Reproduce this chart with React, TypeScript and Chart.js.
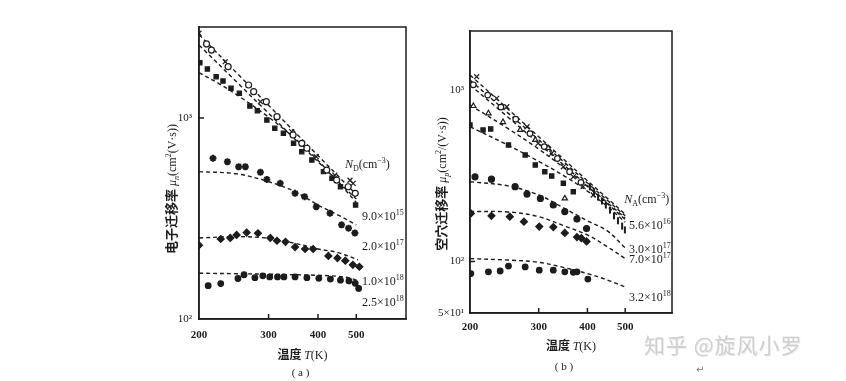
import React, { useEffect, useRef } from 'react';
import { Chart, registerables } from 'chart.js';

Chart.register(...registerables);

// ================= Panel (a): electron mobility =================
const A_X_TICKS = [200, 300, 400, 500];
const A_Y_TICKS = [100, 1000];
const A_Y_LABELS = ['10²', '10³'];

// dashed fit curves
const A_FIT_T = [200, 250, 300, 350, 400, 450, 500];
const A_FIT_1 = [2600, 1664, 1156, 849, 650, 514, 416];
const A_FIT_2 = [2307, 1500, 1055, 783, 606, 482, 395];
const A_FIT_3_T = [200, 225, 250, 300, 350, 400, 450, 500];
const A_FIT_3 = [1680, 1480, 1300, 1010, 790, 615, 480, 380];
const A_FIT_9E15 = [541, 527, 482, 430, 369, 329, 294];
const A_FIT_2E17_T = [200, 250, 300, 350, 400, 450, 505];
const A_FIT_2E17 = [253, 257, 252, 238, 223, 214, 197];
const A_FIT_1E18_T = [200, 250, 300, 350, 400, 450, 480, 505];
const A_FIT_1E18 = [169, 168, 167, 166, 165, 163, 160, 155];

// measured points
const A_CIRC_T = [209, 215, 237, 267, 275, 296, 315, 346, 364, 375, 421, 446, 477, 497];
const A_CIRC_MU = [2335, 2178, 1800, 1459, 1352, 1205, 1015, 823, 748, 707, 551, 491, 455, 422];
const A_SQ_T = [201, 210, 221, 230, 241, 253, 269, 281, 297, 311, 327, 347, 364, 386, 413, 434, 456, 498];
const A_SQ_MU = [1884, 1753, 1605, 1528, 1405, 1327, 1148, 1087, 977, 889, 839, 748, 680, 618, 541, 501, 455, 369];
const A_X_T = [200, 233, 286, 343, 396, 441, 482, 491];
const A_X_MU = [2640, 1906, 1205, 855, 642, 520, 490, 473];
const A_STAR_T = [217, 236, 252, 262, 286, 297, 321, 350, 370, 396, 429, 459, 478, 496];
const A_STAR_MU = [630, 606, 572, 572, 537, 495, 473, 422, 406, 362, 336, 294, 283, 268];
const A_DIA_T = [200, 227, 240, 249, 264, 282, 303, 315, 331, 350, 371, 389, 425, 448, 469, 490, 509];
const A_DIA_MU = [233, 250, 253, 262, 269, 267, 253, 245, 242, 228, 223, 223, 206, 201, 195, 186, 182];
const A_DOT_T = [211, 227, 251, 260, 277, 290, 302, 316, 328, 350, 375, 402, 430, 456, 479, 497, 507];
const A_DOT_MU = [146.5, 150, 159, 166, 160.5, 164, 162, 162, 162, 162, 160.5, 159.4, 158, 156, 154.6, 150.5, 142];

const A_LABELS = [
  ['9.0', '15'],
  ['2.0', '17'],
  ['1.0', '18'],
  ['2.5', '18'],
];

// ================= Panel (b): hole mobility =================
const B_X_TICKS = [200, 300, 400, 500];
const B_Y_TICKS = [50, 100, 1000];
const B_Y_LABELS = ['5×10¹', '10²', '10³'];

const B_FIT_T = [200, 250, 300, 350, 400, 450, 500];
const B_FIT_1 = [1233, 781, 537, 391, 297, 234, 189];
const B_FIT_2 = [1152, 740, 515, 378, 288, 228, 185];
const B_FIT_3 = [1077, 700, 490, 362, 278, 221, 180];
const B_FIT_TRI = [823, 600, 455, 350, 275, 218, 176];
const B_FIT_SQ = [614, 480, 385, 315, 258, 210, 170];
const B_FIT_3E17 = [293, 277, 245, 204, 173, 151, 120];
const B_FIT_7E17 = [196, 195, 183, 161, 143, 122, 104];
const B_FIT_32E18 = [104, 102, 99, 92, 85, 78, 71];

const B_X_T = [208, 234, 248.5, 280, 299, 324, 347, 368, 390, 414];
const B_X_MU = [1205, 900, 804, 614, 491, 429, 358, 313, 274, 245];
const B_CIRC_T = [204, 222, 240, 262, 285, 310, 335, 360, 385];
const B_CIRC_MU = [1080, 940, 800, 680, 560, 470, 400, 335, 290];
const B_BAR_T = [406, 416, 426, 436, 446, 457, 468, 479, 491, 499];
const B_BAR_MU = [273, 255, 238, 226, 214, 200, 185, 173, 161, 153];
const B_TRI_T = [204, 223, 243, 269, 294, 317, 350];
const B_TRI_MU = [812, 736, 654, 588, 514, 461, 234];
const B_SQ_T = [200, 216, 226, 251, 277, 294, 311, 324, 347, 368];
const B_SQ_MU = [629, 588, 596, 480, 420, 367, 335, 316, 287, 256];
const B_HEX_T = [206, 227, 261, 280, 303, 327, 350, 376, 398];
const B_HEX_MU = [313, 303, 274, 248, 234, 214, 196, 177, 156];
const B_DIA_T = [201, 227, 253, 275, 301, 327, 350, 376, 386, 398];
const B_DIA_MU = [191, 185, 183, 171, 160, 159, 147, 139, 137, 131];
const B_DOT_T = [201, 223, 239, 251, 277, 301, 327, 350, 368, 376, 401];
const B_DOT_MU = [85, 87, 88, 94, 93, 89, 89, 87, 86.5, 87, 79];

const B_LABELS = [
  ['5.6', '16'],
  ['3.0', '17'],
  ['7.0', '17'],
  ['3.2', '18'],
];

// ================= helpers =================
const INK = '#1c1c1c';
const SERIF = '"Liberation Serif", "DejaVu Serif", serif';
const CJK = '"Noto Sans CJK SC", sans-serif';

type Run = { t: string; f: string; dy?: number };

function drawRuns(ctx: CanvasRenderingContext2D, runs: Run[], x: number, y: number, align: 'left' | 'center') {
  let w = 0;
  for (const r of runs) {
    ctx.font = r.f;
    w += ctx.measureText(r.t).width;
  }
  let cx = align === 'center' ? x - w / 2 : x;
  ctx.textAlign = 'left';
  ctx.textBaseline = 'alphabetic';
  for (const r of runs) {
    ctx.font = r.f;
    ctx.fillText(r.t, cx, y + 4 + (r.dy || 0));
    cx += ctx.measureText(r.t).width;
  }
}

function sciRuns(m: string, e: string): Run[] {
  return [
    { t: m + '×10', f: `12px ${SERIF}` },
    { t: e, f: `8px ${SERIF}`, dy: -5 },
  ];
}

function pts(T: number[], mu: number[]) {
  return T.map((t, i) => ({ x: t, y: mu[i] }));
}

function lineDs(T: number[], mu: number[]) {
  return {
    data: pts(T, mu),
    showLine: true,
    borderColor: INK,
    borderWidth: 1.4,
    borderDash: [4, 3],
    pointRadius: 0,
    tension: 0.35,
    fill: false,
  };
}

function markDs(T: number[], mu: number[], style: string, filled: boolean, r = 3, extra: any = {}) {
  return {
    data: pts(T, mu),
    showLine: false,
    pointStyle: style,
    pointRadius: r,
    backgroundColor: filled ? INK : '#ffffff',
    borderColor: INK,
    borderWidth: 1.2,
    ...extra,
  };
}

function logAxis(min: number, max: number, ticks: number[], labels: string[] | null, fit: (s: any) => void, pad: number, font: any) {
  return {
    type: 'logarithmic',
    min,
    max,
    afterBuildTicks: (s: any) => {
      s.ticks = ticks.map((v) => ({ value: v }));
    },
    afterFit: fit,
    grid: { display: true, drawOnChartArea: false, drawTicks: false, color: INK },
    border: { display: true, color: INK, width: 1.5 },
    ticks: {
      autoSkip: false,
      maxRotation: 0,
      padding: pad,
      color: INK,
      font,
      callback: (v: any) => {
        const i = ticks.indexOf(Number(v));
        if (i < 0) return '';
        return labels ? labels[i] : String(ticks[i]);
      },
    },
  };
}

function frameAndTicks(chart: any, yTicks: number[]) {
  const ctx = chart.ctx as CanvasRenderingContext2D;
  const { left, right, top, bottom } = chart.chartArea;
  const xs = chart.scales.x;
  const ys = chart.scales.y;
  ctx.strokeStyle = INK;
  ctx.lineWidth = 1.5;
  ctx.strokeRect(left, top, right - left, bottom - top);
  ctx.beginPath();
  for (const v of [300, 400, 500]) {
    const px = xs.getPixelForValue(v);
    ctx.moveTo(px, bottom);
    ctx.lineTo(px, bottom - 5);
  }
  for (const v of yTicks) {
    const py = ys.getPixelForValue(v);
    ctx.moveTo(left, py);
    ctx.lineTo(left + 5, py);
  }
  ctx.stroke();
}

function rotatedTitle(ctx: CanvasRenderingContext2D, runs: Run[], x: number, y: number) {
  ctx.save();
  ctx.translate(x, y);
  ctx.rotate(-Math.PI / 2);
  drawRuns(ctx, runs, 0, 0, 'center');
  ctx.restore();
}

// ================= configs =================
function configA(): any {
  const plugin = {
    id: 'panelA',
    afterDraw(chart: any) {
      const ctx = chart.ctx as CanvasRenderingContext2D;
      const xs = chart.scales.x;
      const ys = chart.scales.y;
      ctx.save();
      frameAndTicks(chart, [1000]);
      ctx.fillStyle = INK;
      // header N_D(cm^-3)
      drawRuns(ctx, [
        { t: 'N', f: `italic 12px ${SERIF}` },
        { t: 'D', f: `8px ${SERIF}`, dy: 3 },
        { t: '(cm', f: `12px ${SERIF}` },
        { t: '−3', f: `8px ${SERIF}`, dy: -5 },
        { t: ')', f: `12px ${SERIF}` },
      ], xs.getPixelForValue(468), ys.getPixelForValue(590), 'left');
      const anchors = [325, 231, 154.5, 121.5];
      A_LABELS.forEach((l, i) => {
        drawRuns(ctx, sciRuns(l[0], l[1]), xs.getPixelForValue(517), ys.getPixelForValue(anchors[i]), 'left');
      });
      // axis titles
      rotatedTitle(ctx, [
        { t: '电子迁移率 ', f: `bold 13px ${CJK}` },
        { t: 'μ', f: `italic 12px ${SERIF}` },
        { t: 'n', f: `italic 8px ${SERIF}`, dy: 3 },
        { t: '(cm', f: `12px ${SERIF}` },
        { t: '2', f: `8px ${SERIF}`, dy: -5 },
        { t: '(V·s))', f: `12px ${SERIF}` },
      ], 172, 189);
      const cx = (chart.chartArea.left + chart.chartArea.right) / 2;
      drawRuns(ctx, [
        { t: '温度 ', f: `bold 12px ${CJK}` },
        { t: 'T', f: `italic 12px ${SERIF}` },
        { t: '(K)', f: `12px ${SERIF}` },
      ], cx, 355, 'center');
      drawRuns(ctx, [{ t: '( a )', f: `11px ${SERIF}` }], cx - 2, 372, 'center');
      ctx.restore();
    },
  };
  return {
    type: 'scatter',
    data: {
      datasets: [
        markDs(A_CIRC_T, A_CIRC_MU, 'circle', false, 3),
        markDs(A_X_T, A_X_MU, 'crossRot', false, 3.5),
        markDs(A_SQ_T, A_SQ_MU, 'rect', true, 3),
        markDs(A_STAR_T, A_STAR_MU, 'star', true, 3.5, { borderWidth: 2 }),
        markDs(A_DIA_T, A_DIA_MU, 'rectRot', true, 3.5),
        markDs(A_DOT_T, A_DOT_MU, 'circle', true, 2.8),
        lineDs(A_FIT_T, A_FIT_1),
        lineDs(A_FIT_T, A_FIT_2),
        lineDs(A_FIT_3_T, A_FIT_3),
        lineDs(A_FIT_T, A_FIT_9E15),
        lineDs(A_FIT_2E17_T, A_FIT_2E17),
        lineDs(A_FIT_1E18_T, A_FIT_1E18),
      ],
    },
    options: {
      animation: false,
      responsive: false,
      events: [],
      layout: { padding: { left: 0, top: 27, right: 14, bottom: 0 } },
      plugins: { legend: { display: false }, tooltip: { enabled: false } },
      scales: {
        x: logAxis(200, 668, A_X_TICKS, null, (s: any) => { s.height = 62; }, 10, { family: SERIF, size: 11, weight: 'bold' }),
        y: logAxis(100, 2836, A_Y_TICKS, A_Y_LABELS, (s: any) => { s.width = 199; }, 7, { family: SERIF, size: 11 }),
      },
    },
    plugins: [plugin],
  };
}

const B_OFFSET = 420;

function configB(): any {
  const plugin = {
    id: 'panelB',
    afterDraw(chart: any) {
      const ctx = chart.ctx as CanvasRenderingContext2D;
      const xs = chart.scales.x;
      const ys = chart.scales.y;
      ctx.save();
      frameAndTicks(chart, [100]);
      ctx.fillStyle = INK;
      drawRuns(ctx, [
        { t: 'N', f: `italic 12px ${SERIF}` },
        { t: 'A', f: `8px ${SERIF}`, dy: 3 },
        { t: '(cm', f: `12px ${SERIF}` },
        { t: '−3', f: `8px ${SERIF}`, dy: -5 },
        { t: ')', f: `12px ${SERIF}` },
      ], xs.getPixelForValue(497), ys.getPixelForValue(232), 'left');
      const anchors = [163.5, 118.4, 103.5, 62];
      B_LABELS.forEach((l, i) => {
        drawRuns(ctx, sciRuns(l[0], l[1]), xs.getPixelForValue(511), ys.getPixelForValue(anchors[i]), 'left');
      });
      rotatedTitle(ctx, [
        { t: '空穴迁移率 ', f: `bold 13px ${CJK}` },
        { t: 'μ', f: `italic 12px ${SERIF}` },
        { t: 'p', f: `italic 8px ${SERIF}`, dy: 3 },
        { t: '(cm', f: `12px ${SERIF}` },
        { t: '2', f: `8px ${SERIF}`, dy: -5 },
        { t: '/(V·s))', f: `12px ${SERIF}` },
      ], 442 - B_OFFSET, 184);
      const cx = (chart.chartArea.left + chart.chartArea.right) / 2;
      drawRuns(ctx, [
        { t: '温度 ', f: `bold 12px ${CJK}` },
        { t: 'T', f: `italic 12px ${SERIF}` },
        { t: '(K)', f: `12px ${SERIF}` },
      ], cx, 346, 'center');
      drawRuns(ctx, [{ t: '( b )', f: `11px ${SERIF}` }], cx - 7, 366, 'center');
      ctx.restore();
    },
  };
  return {
    type: 'scatter',
    data: {
      datasets: [
        markDs(B_X_T, B_X_MU, 'crossRot', false, 3.5),
        markDs(B_CIRC_T, B_CIRC_MU, 'circle', false, 2.8),
        markDs(B_BAR_T, B_BAR_MU, 'line', false, 3.5, { rotation: 90, borderWidth: 2 }),
        markDs(B_TRI_T, B_TRI_MU, 'triangle', false, 3),
        markDs(B_SQ_T, B_SQ_MU, 'rect', true, 3),
        markDs(B_HEX_T, B_HEX_MU, 'circle', true, 3),
        markDs(B_DIA_T, B_DIA_MU, 'rectRot', true, 3.5),
        markDs(B_DOT_T, B_DOT_MU, 'circle', true, 2.8),
        lineDs(B_FIT_T, B_FIT_1),
        lineDs(B_FIT_T, B_FIT_2),
        lineDs(B_FIT_T, B_FIT_3),
        lineDs(B_FIT_T, B_FIT_TRI),
        lineDs(B_FIT_T, B_FIT_SQ),
        lineDs(B_FIT_T, B_FIT_3E17),
        lineDs(B_FIT_T, B_FIT_7E17),
        lineDs(B_FIT_T, B_FIT_32E18),
      ],
    },
    options: {
      animation: false,
      responsive: false,
      events: [],
      layout: { padding: { left: 0, top: 31, right: 174, bottom: 0 } },
      plugins: { legend: { display: false }, tooltip: { enabled: false } },
      scales: {
        x: logAxis(200, 659, B_X_TICKS, null, (s: any) => { s.height = 68; }, 8, { family: SERIF, size: 11, weight: 'bold' }),
        y: logAxis(50, 2229, B_Y_TICKS, B_Y_LABELS, (s: any) => { s.width = 50; }, 6, { family: SERIF, size: 11 }),
      },
    },
    plugins: [plugin],
  };
}

function Panel({ make, left, width }: { make: () => any; left: number; width: number }) {
  const ref = useRef<HTMLCanvasElement | null>(null);
  useEffect(() => {
    if (!ref.current) return;
    const chart = new Chart(ref.current, make());
    return () => chart.destroy();
  }, []);
  return (
    <canvas
      ref={ref}
      width={width}
      height={381}
      style={{ position: 'absolute', left, top: 0, width, height: 381, display: 'block' }}
    />
  );
}

export default function App() {
  return (
    <div style={{ position: 'absolute', left: 0, top: 0, width: 846, height: 381, background: '#ffffff', overflow: 'hidden' }}>
      <Panel make={configA} left={0} width={420} />
      <Panel make={configB} left={B_OFFSET} width={426} />
      <div
        style={{
          position: 'absolute',
          left: 644,
          top: 331,
          fontFamily: '"Noto Sans CJK SC", sans-serif',
          fontSize: 21,
          color: '#cfcfcf',
          letterSpacing: 1,
          textShadow: '1px 1px 0 #eeeeee',
          whiteSpace: 'nowrap',
          lineHeight: '26px',
        }}
      >
        知乎 @旋风小罗
      </div>
      <div
        style={{
          position: 'absolute',
          left: 696,
          top: 364,
          fontSize: 10,
          color: '#777777',
          fontFamily: '"DejaVu Sans", sans-serif',
          lineHeight: '12px',
        }}
      >
        ↵
      </div>
    </div>
  );
}
